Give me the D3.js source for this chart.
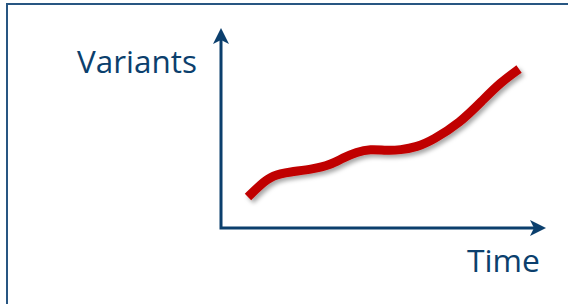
<!DOCTYPE html>
<html><head><meta charset="utf-8">
<script src="https://cdn.jsdelivr.net/npm/d3@7"></script>
<style>html,body{margin:0;padding:0;background:#fff;}svg{display:block;}</style>
</head><body>
<svg id="c" width="568" height="304"></svg>
<script>
// Data (arbitrary units)
const time     = [8.3, 12, 16, 21.2, 28.3, 33.5, 37.5, 41.8, 45.8, 51.1, 55.1, 60.3, 65.2, 73.5, 80.6, 85.8, 91.7];
const variants = [15.5, 21.5, 26.5, 28, 29.5, 31.5, 35, 38, 39.5, 38.7, 39, 40.5, 44, 52.5, 64, 72.5, 79.5];
const xLabel = "Time";
const yLabel = "Variants";

const svg = d3.select("#c");
const axisColor = "#0b3f6d";
const x = d3.scaleLinear().domain([0, 100]).range([221, 546]);
const y = d3.scaleLinear().domain([0, 100]).range([228, 28]);

// frame
svg.append("rect").attr("x", 7).attr("y", 4).attr("width", 600).attr("height", 400)
  .attr("fill", "none").attr("stroke", "#285682").attr("stroke-width", 2);

const defs = svg.append("defs");
const f = defs.append("filter").attr("id", "sh").attr("x", "-20%").attr("y", "-20%").attr("width", "140%").attr("height", "140%");
f.append("feDropShadow").attr("dx", 2.5).attr("dy", 3).attr("stdDeviation", 2)
  .attr("flood-color", "#000").attr("flood-opacity", 0.35);

// axes
const x0 = x(0), y0 = y(0), xe = x(100), ye = y(100);
svg.append("path")
  .attr("d", `M${x0},${ye + 8}L${x0},${y0}L${xe - 8},${y0}`)
  .attr("fill", "none").attr("stroke", axisColor).attr("stroke-width", 3)
  .attr("stroke-linejoin", "miter");
// arrow heads
svg.append("path")
  .attr("d", `M${x0},${ye}L${x0 + 8},${ye + 16}L${x0},${ye + 12}L${x0 - 8},${ye + 16}Z`)
  .attr("fill", axisColor);
svg.append("path")
  .attr("d", `M${xe},${y0}L${xe - 16},${y0 - 8}L${xe - 12},${y0}L${xe - 16},${y0 + 8}Z`)
  .attr("fill", axisColor);

// curve
const line = d3.line().x((d, i) => x(time[i])).y((d, i) => y(variants[i])).curve(d3.curveBasis);
svg.append("path").datum(time).attr("d", line)
  .attr("fill", "none").attr("stroke", "#c00000").attr("stroke-width", 9)
  .attr("stroke-linecap", "butt").attr("filter", "url(#sh)");

// labels
function fitText(t, w) {
  const cur = t.node().getComputedTextLength();
  const fs = parseFloat(t.attr("font-size"));
  t.attr("font-size", fs * w / cur);
}
const ty = svg.append("text").attr("x", 197).attr("y", 73).attr("text-anchor", "end")
  .attr("font-family", "Open Sans").attr("font-size", 32).attr("fill", axisColor).text(yLabel);
fitText(ty, 120);
const tx = svg.append("text").attr("x", 540).attr("y", 272).attr("text-anchor", "end")
  .attr("font-family", "Open Sans").attr("font-size", 32).attr("fill", axisColor).text(xLabel);
fitText(tx, 73);
</script>
</body></html>
